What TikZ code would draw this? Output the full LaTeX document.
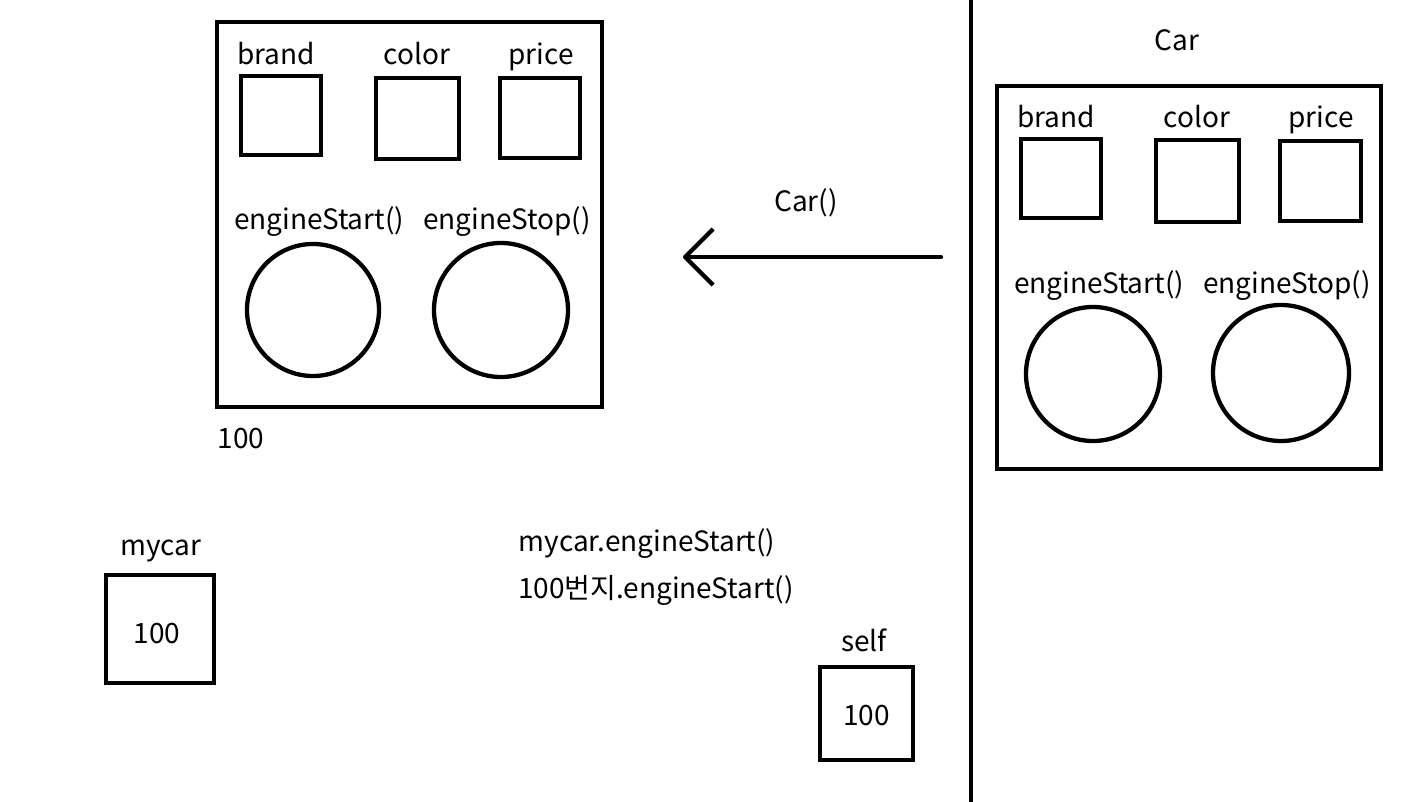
\documentclass[tikz,border=0pt]{standalone}
\usepackage{fontspec}
\setmainfont{Noto Sans CJK KR}
\usetikzlibrary{arrows.meta, positioning}

\begin{document}
\begin{tikzpicture}[x=1pt, y=-1pt,
  line width=4.3pt,
  frame/.style={draw, rectangle, inner sep=0pt},
  slot/.style={draw, circle, inner sep=0pt},
  txt/.style={inner sep=0pt, anchor=base, font=\fontsize{28}{32}\selectfont}]
\useasboundingbox (0,0) rectangle (1410,802);

% Parameters
\def\sq{80}   % side of the small field boxes

% object in memory (left)
\node[frame, minimum width=385, minimum height=385] (obj) at (409.5,214.5) {};
\node[frame, minimum width=\sq, minimum height=79] (objbrand) at (281,115.5) {};
\node[frame, minimum width=83, minimum height=81] (objcolor) at (417.5,118.5) {};
\node[frame, minimum width=\sq, minimum height=\sq] (objprice) at (540,118) {};
\node[slot, minimum size=132] (objstart) at (313,310) {};
\node[slot, minimum size=134] (objstop) at (501,310) {};
\node[txt] (tobjbrand) at (276,65) {brand};
\node[txt] (tobjcolor) at (417,65) {color};
\node[txt] (tobjprice) at (541,65) {price};
\node[txt] (tobjstart) at (319,230) {engineStart()};
\node[txt] (tobjstop) at (507,230) {engineStop()};
\node[txt] (addr) at (241,448) {100};

% class Car (right)
\node[txt] (tcls) at (1177,51) {Car};
\node[frame, minimum width=384, minimum height=383] (cls) at (1189,277.5) {};
\node[frame, minimum width=\sq, minimum height=79] (clsbrand) at (1061,178.5) {};
\node[frame, minimum width=83, minimum height=82] (clscolor) at (1197.5,181) {};
\node[frame, minimum width=81, minimum height=\sq] (clsprice) at (1320.5,181) {};
\node[slot, minimum size=134] (clsstart) at (1093,374) {};
\node[slot, minimum size=136] (clsstop) at (1281,373) {};
\node[txt] (tclsbrand) at (1056,128) {brand};
\node[txt] (tclscolor) at (1197,128) {color};
\node[txt] (tclsprice) at (1321,128) {price};
\node[txt] (tclsstart) at (1099,293) {engineStart()};
\node[txt] (tclsstop) at (1287,293) {engineStop()};

% divider
\coordinate (top) at (971,0);
\coordinate (bot) at (971,802);
\draw (top) -- (bot);

% constructor call
\coordinate (carfrom) at (941,257);
\coordinate (carto) at (683,257);
\draw[line cap=round, -{Straight Barb[length=28pt, width=56pt, line join=round]}] (carfrom) -- (carto);
\node[txt] (tcall) at (806,212) {Car()};

% reference variables
\node[txt] (tmycar) at (161,555) {mycar};
\node[frame, minimum width=108, minimum height=108] (mycar) at (160,629) {};
\node[txt] at (mycar.center) [xshift=-3, yshift=-14] {100};
\node[txt] (tself) at (864,651) {self};
\node[frame, minimum width=93, minimum height=93] (self) at (866.5,713.5) {};
\node[txt] at (self.center) [yshift=-12] {100};

% calls
\node[txt] (call1) at (647,551) {mycar.engineStart()};
\node[txt] (call2) at (656,598) {100번지.engineStart()};

\end{tikzpicture}
\end{document}
